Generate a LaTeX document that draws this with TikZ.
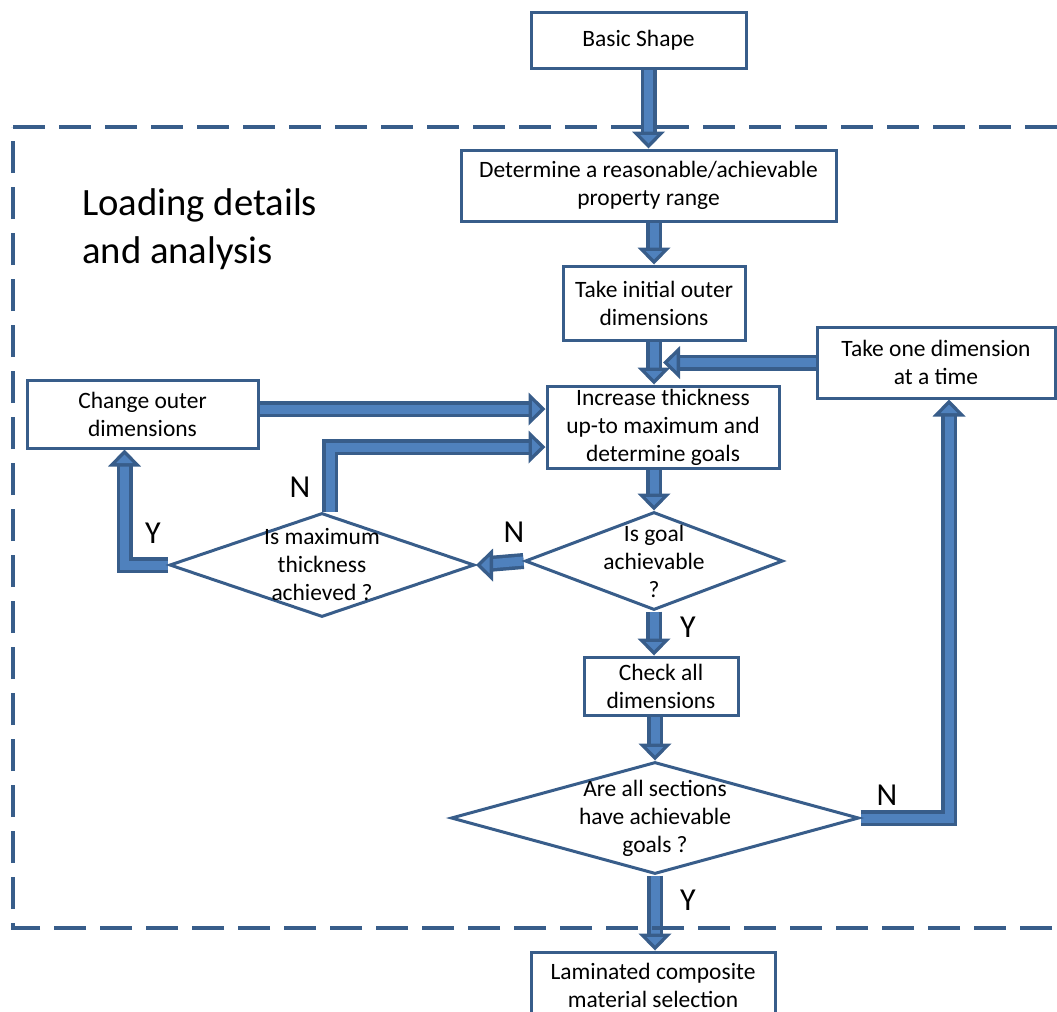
\documentclass[tikz,border=0pt]{standalone}
\usepackage{fontspec}
\setmainfont{Carlito}
\usetikzlibrary{shapes.geometric,calc,backgrounds}
\definecolor{edge}{HTML}{385D8A}
\definecolor{body}{HTML}{4F81BD}
\tikzset{
  every node/.style={font=\fontsize{17.6pt}{21pt}\selectfont, text=black},
  stepbox/.style={draw=edge, line width=2.25pt, fill=white, align=center, inner sep=0pt},
  decision/.style={diamond, draw=edge, line width=2.25pt, fill=white, inner sep=0pt},
  words/.style={align=center, inner sep=0pt},
  answer/.style={font=\fontsize{24pt}{29pt}\selectfont, inner sep=0pt},
  shaftdark/.style={draw=edge, line width=12pt, line join=miter, shorten >=9pt},
  shaftlight/.style={draw=body, line width=6.75pt, line join=miter, shorten >=9pt},
  bhead/.pic={
    \fill[edge] (0,0) -- (-17,16.5) -- (-17,-16.5) -- cycle;
    \fill[body] (-5,0) -- (-13.5,8.25) -- (-13.5,-8.25) -- cycle;
  },
  frame/.style={draw=edge, line width=3pt, dash pattern=on 24pt off 10.5pt},
}
% block arrow: #1 path (ending at the tip), #2 tip point, #3 direction angle
\newcommand\flowarrow[3]{%
  \draw[shaftdark] #1;
  \draw[shaftlight] #1;
  \pic[rotate=#3] at #2 {bhead};
}
\begin{document}
\begin{tikzpicture}[x=0.75pt, y=-0.75pt]
\clip (0,0) rectangle (1057,1011);

% process steps
\node[stepbox, minimum width=161.25pt, minimum height=42pt] (basic) at (638.5,40) {Basic Shape};
\node[stepbox, minimum width=281.25pt, minimum height=53.25pt] (determine) at (648.5,185.5) {Determine a reasonable/achievable\\property range};
\node[stepbox, minimum width=136.5pt, minimum height=55.5pt] (takeinit) at (654,303) {Take initial outer\\dimensions};
\node[stepbox, minimum width=178.5pt, minimum height=53.25pt] (takeone) at (936,362.5) {Take one dimension\\at a time};
\node[stepbox, minimum width=173.25pt, minimum height=51pt] (change) at (142.5,414) {Change outer\\dimensions};
\node[stepbox, minimum width=174pt, minimum height=61.5pt] (increase) at (663,427) {Increase thickness\\up-to maximum and\\determine goals};
\node[stepbox, minimum width=115.5pt, minimum height=43.5pt] (check) at (661,686) {Check all\\dimensions};
\node[stepbox, minimum width=183pt, minimum height=49.5pt] (laminated) at (653,985) {Laminated composite\\material selection};

% decisions
\node[decision, minimum width=193.5pt, minimum height=73.5pt] (goal) at (654,561) {};
\node[words] at (goal) {Is goal\\achievable\\?};
\node[decision, minimum width=228.75pt, minimum height=78pt] (maxthk) at (322,565) {};
\node[words] at (maxthk) {Is maximum\\thickness\\achieved ?};
\node[decision, minimum width=306pt, minimum height=84pt] (allsec) at (655,818) {};
\node[words] at (allsec) {Are all sections\\have achievable\\goals ?};

% answers on the branches
\node[answer] (n1) at (514,532) {N};
\node[answer] (y1) at (688,627) {Y};
\node[answer] (n2) at (300,487) {N};
\node[answer] (y2) at (153,533) {Y};
\node[answer] (n3) at (887,795) {N};
\node[answer] (y3) at (688,900) {Y};

% region title
\node[font=\fontsize{29pt}{36pt}\selectfont, align=left, inner sep=0pt, anchor=west] (title) at (82,229) {Loading details\\and analysis};

\coordinate (merge) at ($(takeinit.south |- takeone.west)+(9,0)$);

\begin{pgfonlayer}{background}
  \flowarrow{(determine.north |- basic.south) -- (determine.north)}{(determine.north)}{-90}
  \flowarrow{(takeinit.north |- determine.south) -- (takeinit.north)}{(takeinit.north)}{-90}
  \flowarrow{(takeone.west) -- (merge)}{(merge)}{180}
  \flowarrow{(takeinit.south) -- (takeinit.south |- increase.north)}{(takeinit.south |- increase.north)}{-90}
  \flowarrow{($(change.east)+(0,-5)$) -- ($(change.east -| increase.west)+(0,-5)$)}{($(change.east -| increase.west)+(0,-5)$)}{0}
  \flowarrow{($(maxthk.north)+(8,0)$) |- ($(increase.west)+(0,20)$)}{($(increase.west)+(0,20)$)}{0}
  \flowarrow{(goal.north |- increase.south) -- (goal.north)}{(goal.north)}{-90}
  \flowarrow{(goal.west) -- (maxthk.east)}{(maxthk.east)}{180}
  \flowarrow{(goal.south) -- (goal.south |- check.north)}{(goal.south |- check.north)}{-90}
  \flowarrow{(allsec.north |- check.south) -- (allsec.north)}{(allsec.north)}{-90}
  \flowarrow{(allsec.east) -| ($(takeone.south)+(13,0)$)}{($(takeone.south)+(13,0)$)}{90}
  \flowarrow{(maxthk.west) -| ($(change.south)+(-18,0)$)}{($(change.south)+(-18,0)$)}{90}
  \flowarrow{(allsec.south) -- (allsec.south |- laminated.north)}{(allsec.south |- laminated.north)}{-90}
\end{pgfonlayer}

% dashed region frame
\draw[frame] (13,127) -- (1075,127) -- (1075,928) -- (13,928) -- cycle;
\end{tikzpicture}
\end{document}
